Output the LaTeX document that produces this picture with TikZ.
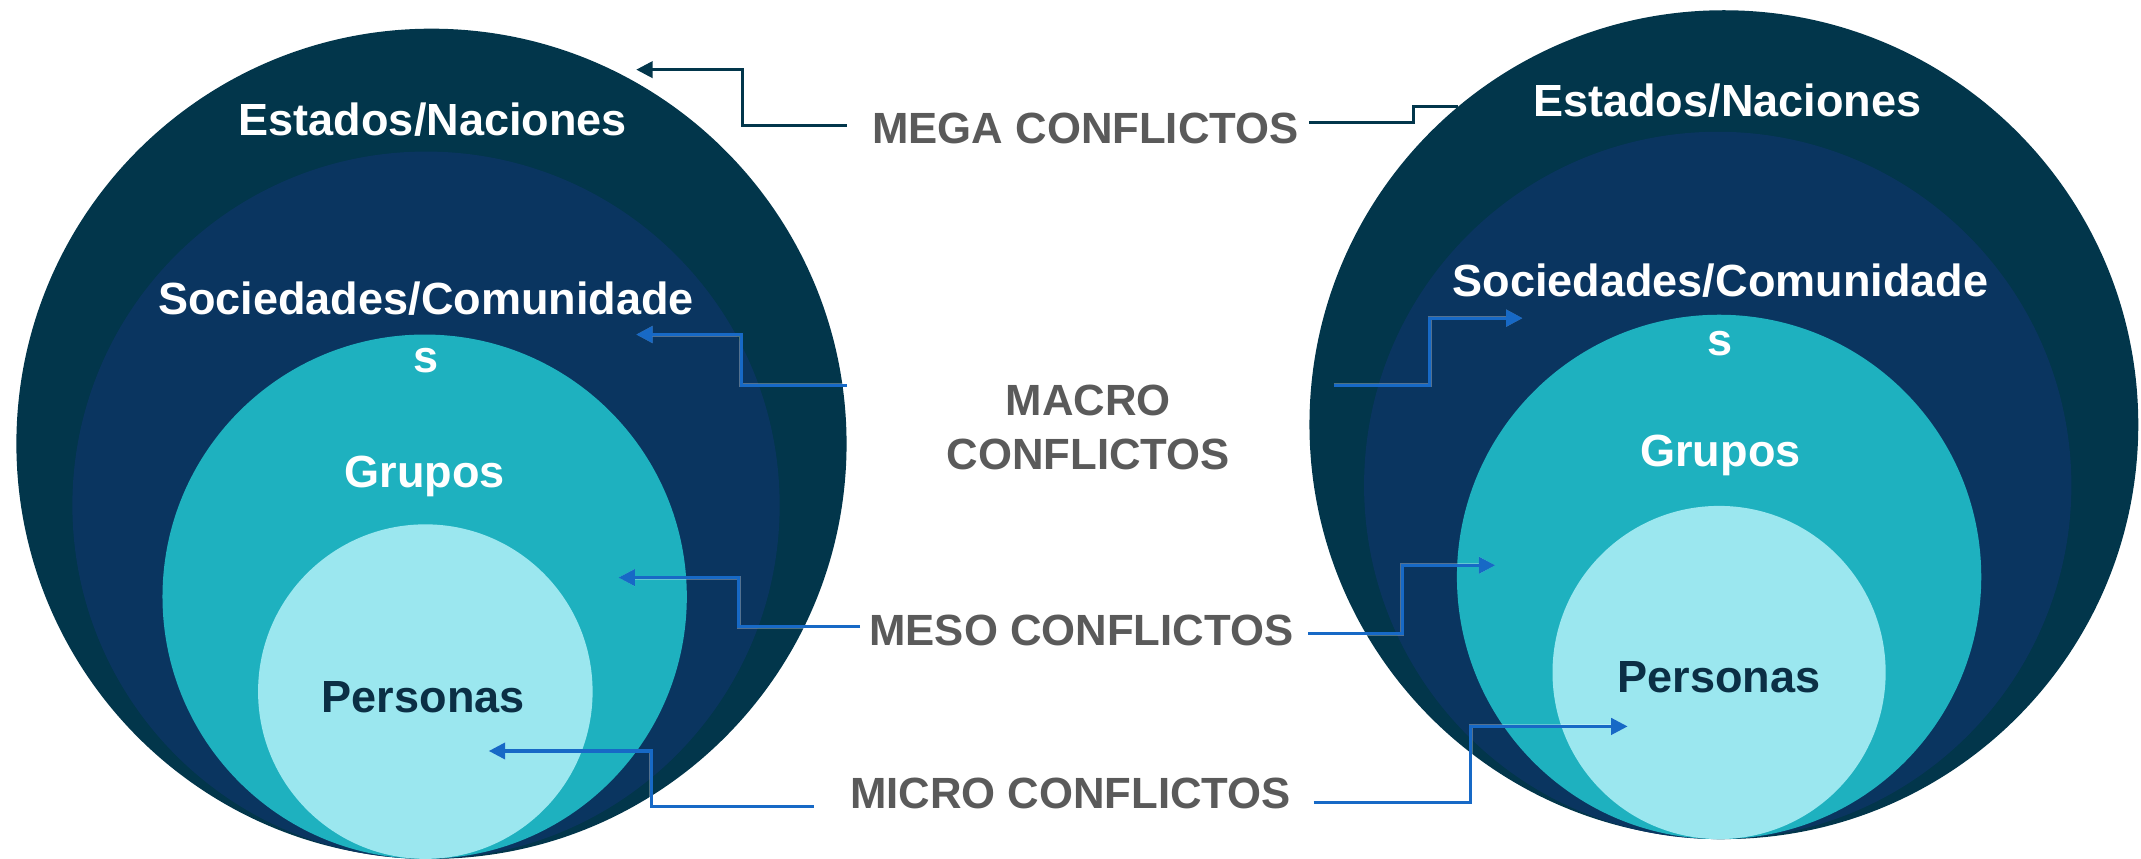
\documentclass[tikz,border=0pt]{standalone}
\usepackage{fontspec}
\setmainfont{Liberation Sans}
\usepackage{xcolor}
\usetikzlibrary{arrows.meta,positioning}
\definecolor{estado}{HTML}{02364B}
\definecolor{socied}{HTML}{0A3560}
\definecolor{grupo}{HTML}{1EB1BF}
\definecolor{persona}{HTML}{9BE7EF}
\definecolor{persontxt}{HTML}{0B2F45}
\definecolor{confgray}{HTML}{5A5A5A}
\definecolor{linkblue}{HTML}{1769C6}

\begin{document}
\begin{tikzpicture}[x=1pt,y=-1pt,
		ring/.style={circle,inner sep=0pt,draw=none},
		lvl/.style={font=\fontsize{33}{43}\selectfont\bfseries,text=white,anchor=base,align=center,inner sep=0pt},
		conf/.style={font=\fontsize{32}{40}\selectfont\bfseries,text=confgray,anchor=base,align=center,inner sep=0pt},
		lnk/.style={line width=2.2pt,preaction={draw=white,opacity=0.3,line width=2.9pt},-{Triangle[length=12pt,width=12pt]}}]
	\useasboundingbox (0,0) rectangle (1568,629);
	% left circles
	\node[ring,fill=estado,minimum size=608pt] (estL) at (316,325) {};
	\node[ring,fill=socied,minimum size=518pt] (socL) at (312,370) {};
	\node[ring,fill=grupo,minimum size=384pt] (grpL) at (311,437) {};
	\node[ring,fill=persona,minimum size=245pt] (perL) at (311.5,506.5) {};
	% right circles
	\node[ring,fill=estado,minimum size=607pt] (estR) at (1262.5,311) {};
	\node[ring,fill=socied,minimum size=518pt] (socR) at (1258,355.5) {};
	\node[ring,fill=grupo,minimum size=384pt] (grpR) at (1259,422.5) {};
	\node[ring,fill=persona,minimum size=244pt] (perR) at (1259,492.5) {};

	\node[lvl] (estLtxt) at (317,99) {Estados/Naciones};
	\node[lvl] (socLtxt) at (312,273) {Sociedades/Comunidade\\s};
	\node[lvl] (grpLtxt) at (311,357) {Grupos};
	\node[lvl,text=persontxt] (perLtxt) at (310,522) {Personas};

	\node[lvl] (estRtxt) at (1265,85) {Estados/Naciones};
	\node[lvl] (socRtxt) at (1260,260) {Sociedades/Comunidade\\s};
	\node[lvl] (grpRtxt) at (1260,342) {Grupos};
	\node[lvl,text=persontxt] (perRtxt) at (1259,507) {Personas};

	% middle labels
	\node[conf] (mega) at (795,105) {MEGA CONFLICTOS};
	\node[conf] (macro) at (797,344) {MACRO\\CONFLICTOS};
	\node[conf] (meso) at (792,473) {MESO CONFLICTOS};
	\node[conf] (micro) at (784,592) {MICRO CONFLICTOS};

	% connector ends
	\coordinate (megaLs) at (620,92);   \coordinate (megaLt) at (466,51);
	\coordinate (macroLs) at (620,282); \coordinate (macroLt) at (466,245);
	\coordinate (mesoLs) at (630,459);  \coordinate (mesoLt) at (453,423);
	\coordinate (microLs) at (596,591); \coordinate (microLt) at (358,550);
	\coordinate (megaRs) at (959,90);   \coordinate (megaRt) at (1068,78);
	\coordinate (macroRs) at (977,282); \coordinate (macroRt) at (1115,233);
	\coordinate (mesoRs) at (958,464);  \coordinate (mesoRt) at (1095,414);
	\coordinate (microRs) at (962,588); \coordinate (microRt) at (1192,532);

	\draw[lnk,estado] (megaLs) -- ++(-76,0) |- (megaLt);
	\draw[lnk,linkblue] (macroLs) -- ++(-77,0) |- (macroLt);
	\draw[lnk,linkblue] (mesoLs) -- ++(-89,0) |- (mesoLt);
	\draw[lnk,linkblue] (microLs) -- ++(-119,0) |- (microLt);

	\draw[lnk,estado,-] (megaRs) -- ++(76,0) |- (megaRt);
	\draw[lnk,linkblue] (macroRs) -- ++(70,0) |- (macroRt);
	\draw[lnk,linkblue] (mesoRs) -- ++(69,0) |- (mesoRt);
	\draw[lnk,linkblue] (microRs) -- ++(115,0) |- (microRt);
\end{tikzpicture}
\end{document}
